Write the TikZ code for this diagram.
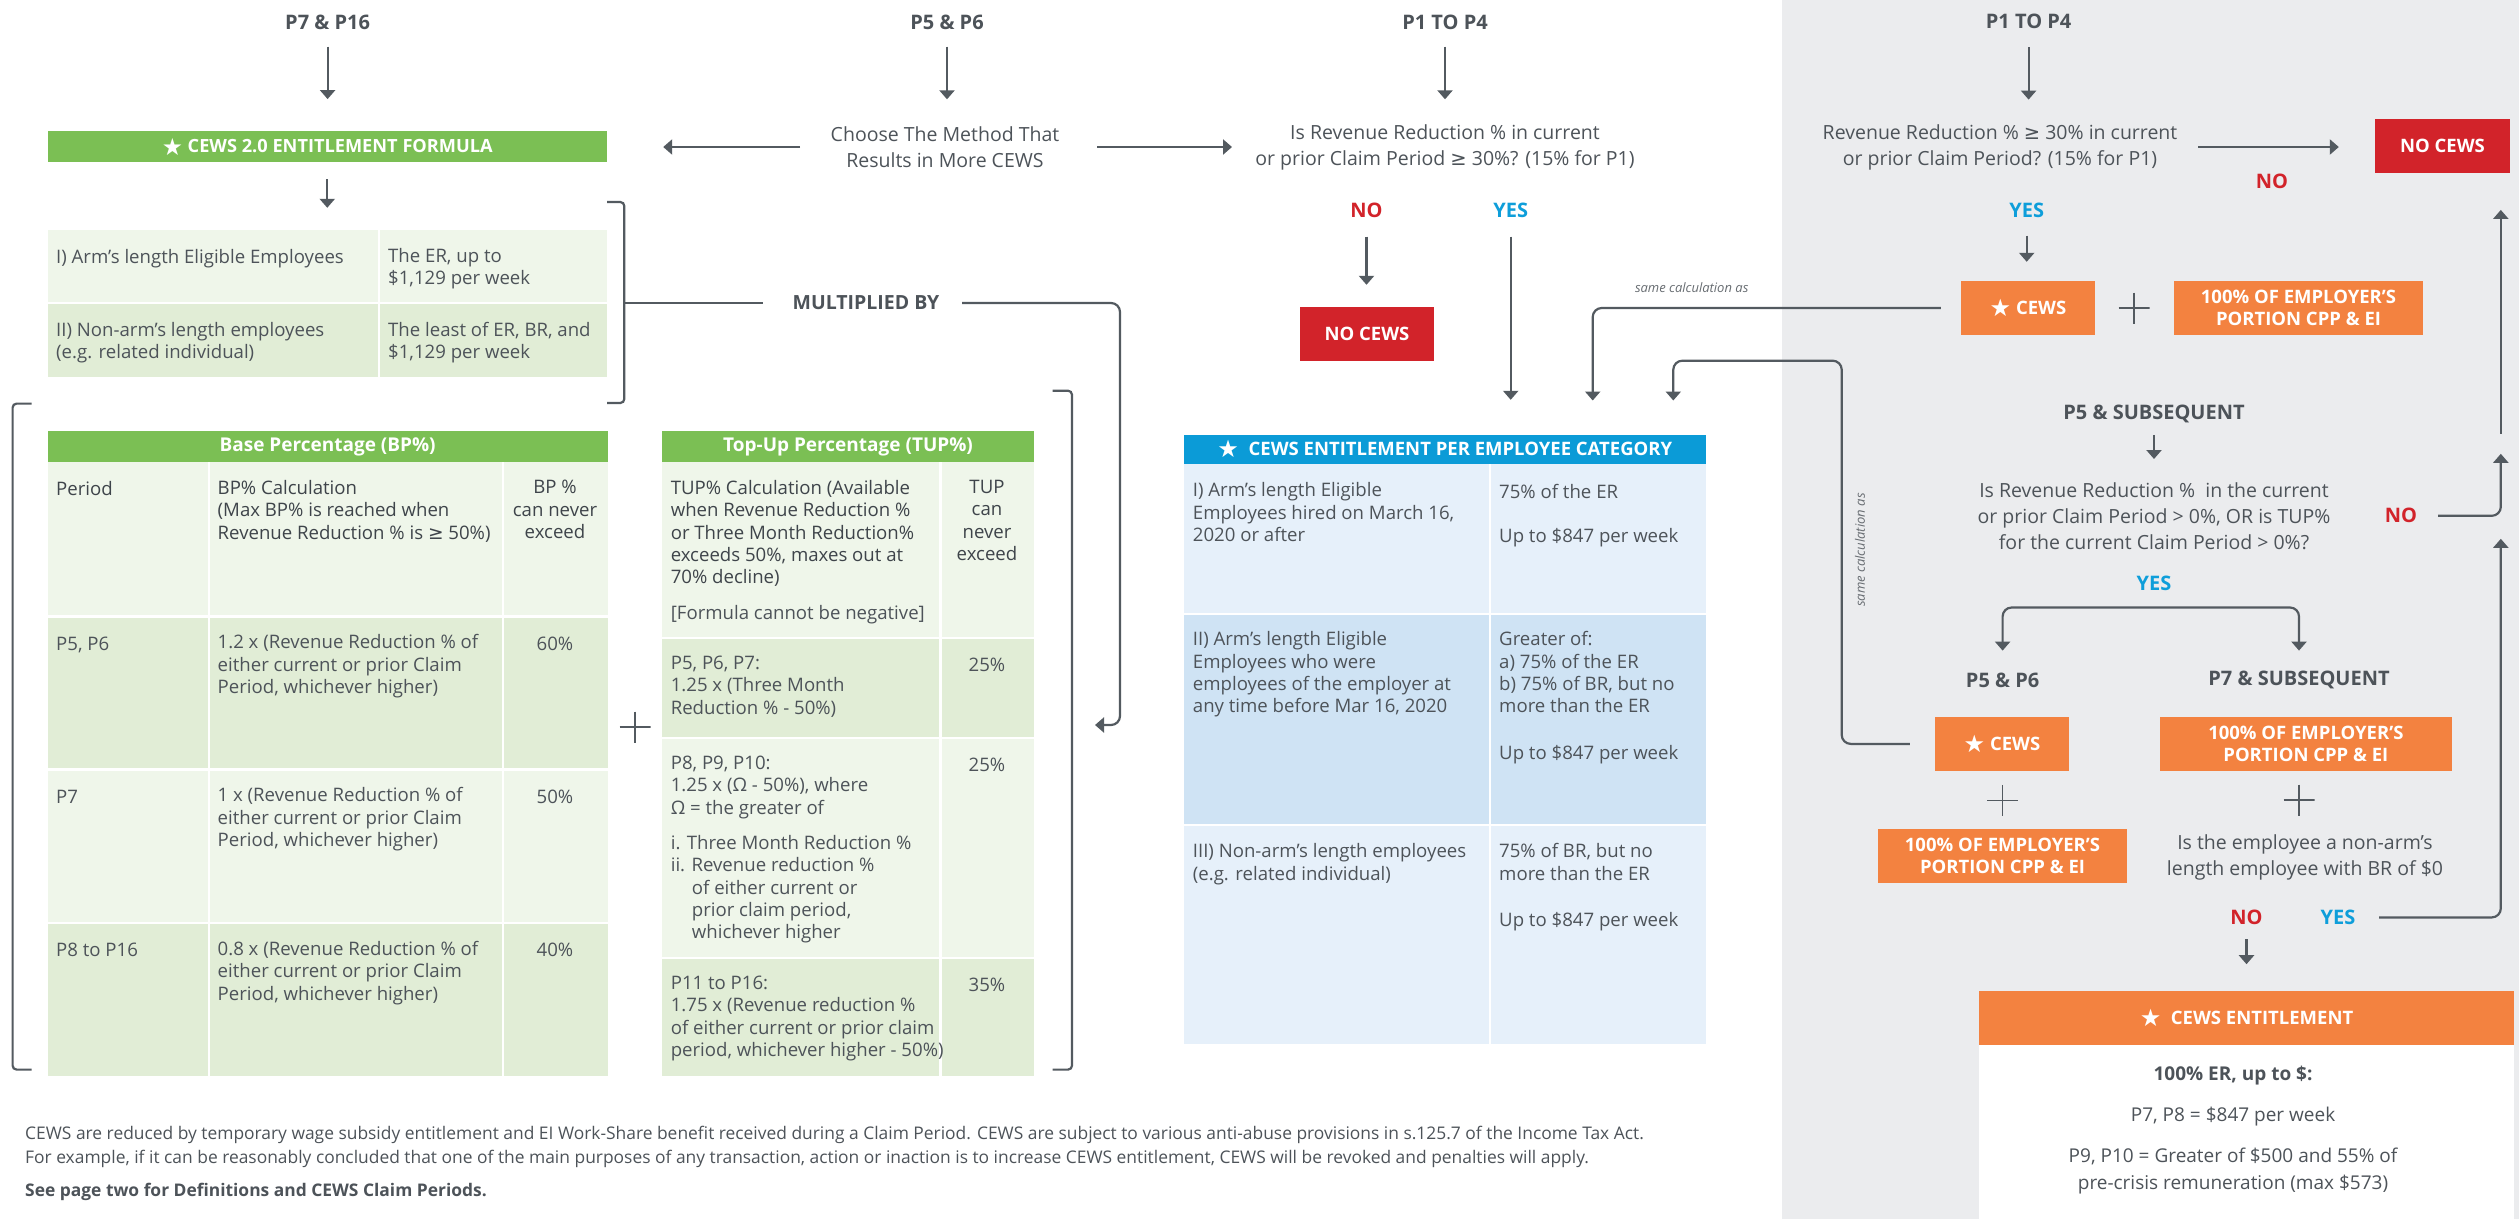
\documentclass[tikz,border=0pt]{standalone}
\usepackage{fontspec}
\setmainfont{Open Sans}
\newfontfamily\symf{DejaVu Sans}
\usetikzlibrary{arrows.meta}
\definecolor{tg}{HTML}{4D5359}
\definecolor{tgd}{HTML}{3E444A}
\definecolor{lnc}{HTML}{535A60}
\definecolor{gr}{HTML}{7BBF54}
\definecolor{gla}{HTML}{EFF6EA}
\definecolor{glb}{HTML}{E1EDD6}
\definecolor{bh}{HTML}{0B9BD7}
\definecolor{bla}{HTML}{E6F0FA}
\definecolor{blb}{HTML}{CFE3F4}
\definecolor{rd}{HTML}{D2232A}
\definecolor{yb}{HTML}{0E9EDA}
\definecolor{orc}{HTML}{F38240}
\definecolor{pg}{HTML}{EBECEE}
\newcommand\myge{{\symf ≥}}
\newcommand\mystar{\raisebox{-0.12em}{\scalebox{1.3}{\symf ★}}}
\newcommand\fHead{\fontsize{20}{24}\selectfont\bfseries}
\newcommand\fQ{\fontsize{19.5}{26}\selectfont}
\newcommand\fTab{\fontsize{18.6}{22.3}\selectfont}
\newcommand\fBox{\fontsize{18.5}{21.5}\selectfont\bfseries}
\newcommand\fFoot{\fontsize{17.4}{24}\selectfont}
\newcommand\fSmall{\fontsize{13}{16}\selectfont\itshape}
\begin{document}
\begin{tikzpicture}[x=1pt,y=-1pt,
  lbl/.style={inner sep=0pt, text=tg, font=\fHead},
  qq/.style={inner sep=0pt, text=tg, font=\fQ, align=center},
  boxo/.style={inner sep=0pt, fill=orc, text=white, font=\fBox, align=center},
  arr/.style={draw=lnc, line width=2.2pt, -{Triangle[width=15pt,length=9pt]}},
  lnn/.style={draw=lnc, line width=2.2pt},
  nolab/.style={inner sep=0pt, font=\fHead, text=rd},
  yeslab/.style={inner sep=0pt, font=\fHead, text=yb},
  tl/.style={anchor=north west, inner sep=0pt, align=left, text=tg, font=\fTab, yshift=8.9pt, execute at begin node=\strut},
  tc/.style={anchor=north, inner sep=0pt, align=center, text=tg, font=\fTab, yshift=8.9pt, execute at begin node=\strut},
  row/.style={inner sep=0pt, draw=none},
  sep/.style={draw=white, line width=2.5pt},
  plus/.style={minimum size=31pt, inner sep=0pt, path picture={\draw[line width=1.6pt, lnc] (path picture bounding box.north) -- (path picture bounding box.south) (path picture bounding box.west) -- (path picture bounding box.east);}},
  small/.style={inner sep=0pt, text=tg!85, font=\fSmall}
]
\useasboundingbox (0,0) rectangle (2519,1219);
\fill[white] (0,0) rectangle (2519,1219);
\fill[pg] (1782,0) rectangle (2519,1219);

% ---------- top labels
\node[lbl] (h1) at (327.6,22) {P7 \& P16};
\node[lbl] (h2) at (947,22) {P5 \& P6};
\node[lbl] (h3) at (1445,22) {P1 TO P4};
\node[lbl] (h4) at (2028.6,21) {P1 TO P4};

\node[fill=gr, minimum width=559.1pt, minimum height=31pt, inner sep=0pt, text=white, font=\fontsize{18.2}{20}\selectfont\bfseries] (fb) at (327.25,146.5) {\mystar\ CEWS 2.0 ENTITLEMENT FORMULA};
\node[qq] (choose) at (945,147) {Choose The Method That\\Results in More CEWS};
\node[qq] (q1) at (1445,147) {Is Revenue Reduction \% in current\\or prior Claim Period \myge{} 30\%? (15\% for P1)};

\draw[arr, shorten <=24.7pt, shorten >=31.7pt] (h1.center) -- (h1.center |- fb.north);
\draw[arr, shorten <=24.7pt, shorten >=47.7pt] (h2.center) -- (h2.center |- choose.center);
\draw[arr, shorten <=24.7pt, shorten >=47.7pt] (h3.center) -- (h3.center |- q1.center);
\draw[arr, shorten <=145pt, shorten >=56.2pt] (choose.center) -- (choose.center -| fb.east);
\draw[arr, shorten <=152pt, shorten >=213pt] (choose.center) -- (q1.center);

% ---------- table 1
\node[row, fill=gla, minimum width=559.1pt, minimum height=73pt] (t1a) at (327.25,266.5) {};
\node[row, fill=glb, minimum width=559.1pt, minimum height=74pt] (t1b) at (327.25,340) {};
\draw[sep] (378.8,230) -- (378.8,377);
\draw[sep] (47.7,303) -- (606.8,303);
\node[tl] (t1a1) at (56,256.7) {I) Arm’s length Eligible Employees};
\node[tl] (t1a2) at (388,256.7) {The ER, up to\\\$1,129 per week};
\node[tl] (t1b1) at (56,331) {II) Non-arm’s length employees\\(e.g. related individual)};
\node[tl] (t1b2) at (388,331) {The least of ER, BR, and\\\$1,129 per week};
\draw[arr, shorten <=17pt, shorten >=22pt] (fb.south) -- (t1a.north);

% bracket + multiplied by
\draw[lnn, rounded corners=4pt] (607,202) -- (624.3,202) -- (624.3,403) -- (607,403);
\coordinate (brm) at (624.3,303);
\node[lbl, font=\fontsize{19.5}{22}\selectfont\bfseries] (mult) at (866,303) {MULTIPLIED BY};
\draw[lnn, shorten >=103pt] (brm) -- (mult.center);
\coordinate (mc) at (1120,725);
\coordinate (mend) at (1095,725);
\draw[arr, rounded corners=9pt, shorten <=96pt] (mult.center) -| (mc) -- (mend);

% lower brackets
\draw[lnn, rounded corners=4pt] (31.6,403.6) -- (12.6,403.6) -- (12.6,1069.6) -- (31.6,1069.6);
\draw[lnn, rounded corners=4pt] (1052.7,390.7) -- (1072,390.7) -- (1072,1069.6) -- (1052.7,1069.6);

% ---------- BP table
\node[row, fill=gr, minimum width=559.8pt, minimum height=31pt, text=white, font=\fontsize{19}{20}\selectfont\bfseries] (bph) at (327.6,446.5) {Base Percentage (BP\%)};
\node[row, fill=gla, minimum width=559.8pt, minimum height=154.5pt] (bp0) at (327.6,539.25) {};
\node[row, fill=glb, minimum width=559.8pt, minimum height=153.1pt] (bp1) at (327.6,693.05) {};
\node[row, fill=gla, minimum width=559.8pt, minimum height=153.4pt] (bp2) at (327.6,846.3) {};
\node[row, fill=glb, minimum width=559.8pt, minimum height=153pt] (bp3) at (327.6,999.5) {};
\draw[sep] (209,462) -- (209,1076) (503,462) -- (503,1076);
\draw[sep] (47.7,616.5) -- (607.5,616.5) (47.7,769.6) -- (607.5,769.6) (47.7,923) -- (607.5,923);
\node[tl, text=tgd] (bpa) at (56,489) {Period};
\node[tl, text=tgd] (bpb) at (217.5,489) {BP\% Calculation\\(Max BP\% is reached when\\Revenue Reduction \% is \myge{} 50\%)};
\node[tc, text=tgd] (bpc) at (555,489) {BP \%\\can never\\exceed};
\node[tl] (bp1a) at (56,643.3) {P5, P6};
\node[tl] (bp1b) at (217.5,643.3) {1.2 x (Revenue Reduction \% of\\either current or prior Claim\\Period, whichever higher)};
\node[tc] (bp1c) at (555,643.3) {60\%};
\node[tl] (bp2a) at (56,796.4) {P7};
\node[tl] (bp2b) at (217.5,796.4) {1 x (Revenue Reduction \% of\\either current or prior Claim\\Period, whichever higher)};
\node[tc] (bp2c) at (555,796.4) {50\%};
\node[tl] (bp3a) at (56,950) {P8 to P16};
\node[tl] (bp3b) at (217.5,950) {0.8 x (Revenue Reduction \% of\\either current or prior Claim\\Period, whichever higher)};
\node[tc] (bp3c) at (555,950) {40\%};

\node[plus] (pl0) at (635,727) {};

% ---------- TUP table
\node[row, fill=gr, minimum width=372pt, minimum height=31pt, text=white, font=\fontsize{19}{20}\selectfont\bfseries] (tuh) at (848,446.5) {Top-Up Percentage (TUP\%)};
\node[row, fill=gla, minimum width=372pt, minimum height=176pt] (tu0) at (848,550) {};
\node[row, fill=glb, minimum width=372pt, minimum height=100pt] (tu1) at (848,688) {};
\node[row, fill=gla, minimum width=372pt, minimum height=220pt] (tu2) at (848,848) {};
\node[row, fill=glb, minimum width=372pt, minimum height=118pt] (tu3) at (848,1017) {};
\draw[sep] (940.7,462) -- (940.7,1076);
\draw[sep] (662,638) -- (1034,638) (662,738) -- (1034,738) (662,958) -- (1034,958);
\node[tl, text=tgd] (tua) at (670.6,489) {TUP\% Calculation (Available\\when Revenue Reduction \%\\or Three Month Reduction\%\\exceeds 50\%, maxes out at\\70\% decline)};
\node[tl] (tua2) at (670.6,613) {[Formula cannot be negative]};
\node[tc, text=tgd] (tub) at (987,489) {TUP\\can\\never\\exceed};
\node[tl] (tu1a) at (670.6,664.7) {P5, P6, P7:\\1.25 x (Three Month\\Reduction \% - 50\%)};
\node[tc] (tu1b) at (987,664.7) {25\%};
\node[tl] (tu2a) at (670.6,764.7) {P8, P9, P10:\\1.25 x (Ω - 50\%), where\\Ω = the greater of};
\node[tl] (tu2b) at (670.6,843.75) {i. Three Month Reduction \%\\ii. Revenue reduction \%};
\node[tl] (tu2c) at (691.7,888.8) {of either current or\\prior claim period,\\whichever higher};
\node[tc] (tu2d) at (987,764.7) {25\%};
\node[tl] (tu3a) at (670.6,984.8) {P11 to P16:\\1.75 x (Revenue reduction \%\\of either current or prior claim\\period, whichever higher - 50\%)};
\node[tc] (tu3b) at (987,984.8) {35\%};

% ---------- middle decision
\node[nolab] (no1) at (1366.5,210) {NO};
\node[yeslab] (yes1) at (1510.7,210) {YES};
\node[boxo, fill=rd, minimum width=134pt, minimum height=53.7pt] (nc1) at (1367,333.85) {NO CEWS};
\draw[arr, shorten <=26.7pt, shorten >=22pt] (no1.center) -- (no1.center |- nc1.north);

% ---------- blue table
\node[row, fill=bh, minimum width=521.6pt, minimum height=29.5pt, text=white, font=\fontsize{18.5}{20}\selectfont\bfseries] (bhd) at (1444.8,449.25) {\mystar\ \ CEWS ENTITLEMENT PER EMPLOYEE CATEGORY};
\node[row, fill=bla, minimum width=521.6pt, minimum height=149.8pt] (bl0) at (1444.8,538.9) {};
\node[row, fill=blb, minimum width=521.6pt, minimum height=211.2pt] (bl1) at (1444.8,719.4) {};
\node[row, fill=bla, minimum width=521.6pt, minimum height=219pt] (bl2) at (1444.8,934.5) {};
\draw[sep] (1490,464) -- (1490,1044);
\draw[sep] (1184,613.8) -- (1705.6,613.8) (1184,825) -- (1705.6,825);
\node[tl] (b0a) at (1192.7,491.3) {I) Arm’s length Eligible\\Employees hired on March 16,\\2020 or after};
\node[tl] (b0b) at (1499,491.3) {75\% of the ER};
\node[tl] (b0c) at (1499,535.5) {Up to \$847 per week};
\node[tl] (b1a) at (1192.7,640.3) {II) Arm’s length Eligible\\Employees who were\\employees of the employer at\\any time before Mar 16, 2020};
\node[tl] (b1b) at (1499,640.3) {Greater of:\\a) 75\% of the ER\\b) 75\% of BR, but no\\more than the ER};
\node[tl] (b1c) at (1499,752.3) {Up to \$847 per week};
\node[tl] (b2a) at (1192.7,852.4) {III) Non-arm’s length employees\\(e.g. related individual)};
\node[tl] (b2b) at (1499,852.4) {75\% of BR, but no\\more than the ER};
\node[tl] (b2c) at (1499,919.4) {Up to \$847 per week};
\draw[arr, shorten <=26.7pt, shorten >=34.5pt] (yes1.center) -- (yes1.center |- bhd.north);

% ---------- right panel
\node[qq] (q2) at (2000,147) {Revenue Reduction \% \myge{} 30\% in current\\or prior Claim Period? (15\% for P1)};
\draw[arr, shorten <=26pt, shorten >=47.4pt] (h4.center) -- (h4.center |- q2.center);
\node[boxo, fill=rd, minimum width=135pt, minimum height=53.6pt] (nc2) at (2442.5,145.8) {NO CEWS};
\draw[arr, shorten <=198pt, shorten >=36pt] (q2.center) -- (q2.center -| nc2.west);
\node[nolab] (no2) at (2272,181.7) {NO};
\node[yeslab] (yes2) at (2026.7,210.4) {YES};
\node[boxo, minimum width=134pt, minimum height=54pt] (cw1) at (2028,308) {\mystar\ CEWS};
\draw[arr, shorten <=25.3pt, shorten >=19pt] (yes2.center) -- (yes2.center |- cw1.north);
\node[plus] (pl1) at (2134,308) {};
\node[boxo, minimum width=249pt, minimum height=54pt] (bx1) at (2298.5,308) {100\% OF EMPLOYER’S\\PORTION CPP \& EI};

\draw[arr, rounded corners=9pt, shorten <=20pt, shorten >=33.8pt] (cw1.west) -| ([xshift=147.9pt]bhd.north);
\node[small] (sc1) at (1691.7,287.3) {same calculation as};

\node[lbl] (p5s) at (2154,413.7) {P5 \& SUBSEQUENT};
\node[qq] (q3) at (2154,515.8) {Is Revenue Reduction \%\ \ in the current\\or prior Claim Period > 0\%, OR is TUP\%\\for the current Claim Period > 0\%?};
\draw[arr, shorten <=21.1pt, shorten >=56.8pt] (p5s.center) -- (q3.center);
\node[nolab] (no3) at (2401,515.8) {NO};
\coordinate (j1) at (2500.8,453.8);
\draw[arr, rounded corners=9pt, shorten <=37pt] (no3.center) -| (j1);
\coordinate (j0) at (2500.8,433.5);
\draw[arr, shorten >=37.1pt] (j0) -- (j0 |- nc2.south);
\node[yeslab] (yes3) at (2154,583) {YES};

\node[lbl] (p56) at (2002.6,680) {P5 \& P6};
\node[lbl] (p7s) at (2299,680) {P7 \& SUBSEQUENT};
\draw[draw=lnc, line width=2.2pt, {Triangle[width=15pt,length=9pt]}-{Triangle[width=15pt,length=9pt]}, rounded corners=9pt, shorten <=29.4pt, shorten >=29.4pt] (p56.center) |- ([yshift=-24.5pt]yes3.center) -| (p7s.center);

\node[boxo, minimum width=134pt, minimum height=53.8pt] (cw2) at (2002,743.9) {\mystar\ CEWS};
\coordinate (c2) at (1841.7,360.7);
\draw[arr, rounded corners=9pt, shorten <=25pt, shorten >=33.8pt] (cw2.west) -| (c2) -| ([xshift=228.5pt]bhd.north);
\node[small, rotate=90] (sc2) at (1860,550) {same calculation as};
\node[plus] (pl2) at (2002.6,800.4) {};
\node[boxo, minimum width=249pt, minimum height=54pt] (bx2) at (2002.5,856) {100\% OF EMPLOYER’S\\PORTION CPP \& EI};

\node[boxo, minimum width=291.7pt, minimum height=53.8pt] (bx3) at (2305.85,743.9) {100\% OF EMPLOYER’S\\PORTION CPP \& EI};
\node[plus] (pl3) at (2299,800) {};
\node[qq] (q4) at (2305,857) {Is the employee a non-arm’s\\length employee with BR of \$0};
\node[nolab] (no4) at (2246.5,917.4) {NO};
\node[yeslab] (yes4) at (2338,917.4) {YES};
\coordinate (j2) at (2500.8,538.8);
\draw[arr, rounded corners=9pt, shorten <=41pt] (yes4.center) -| (j2);

\node[boxo, minimum width=535pt, minimum height=54.2pt] (fe) at (2246.5,1017.6) {\mystar\ \ CEWS ENTITLEMENT};
\draw[arr, shorten <=21.6pt, shorten >=26.1pt] (no4.center) -- (no4.center |- fe.north);
\fill[white] (1979,1044.7) rectangle (2514,1219);
\node[inner sep=0pt, text=tg, font=\fontsize{19}{27}\selectfont\bfseries] (fe1) at (2233,1075.5) {100\% ER, up to \$:};
\node[inner sep=0pt, text=tg, font=\fontsize{19}{27}\selectfont] (fe2) at (2233,1116.6) {P7, P8 = \$847 per week};
\node[inner sep=0pt, text=tg, font=\fontsize{19}{27}\selectfont, align=center] (fe3) at (2233,1170.5) {P9, P10 = Greater of \$500 and 55\% of\\pre-crisis remuneration (max \$573)};

% ---------- footnote
\node[anchor=west, inner sep=0pt, text=tg, font=\fFoot] (fn1) at (25,1135) {CEWS are reduced by temporary wage subsidy entitlement and EI Work-Share benefit received during a Claim Period. CEWS are subject to various anti-abuse provisions in s.125.7 of the Income Tax Act.};
\node[anchor=west, inner sep=0pt, text=tg, font=\fFoot] (fn2) at (25,1159.3) {For example, if it can be reasonably concluded that one of the main purposes of any transaction, action or inaction is to increase CEWS entitlement, CEWS will be revoked and penalties will apply.};
\node[anchor=west, inner sep=0pt, text=tg, font=\fFoot\bfseries] (fn3) at (25,1192) {See page two for Definitions and CEWS Claim Periods.};
\end{tikzpicture}
\end{document}
